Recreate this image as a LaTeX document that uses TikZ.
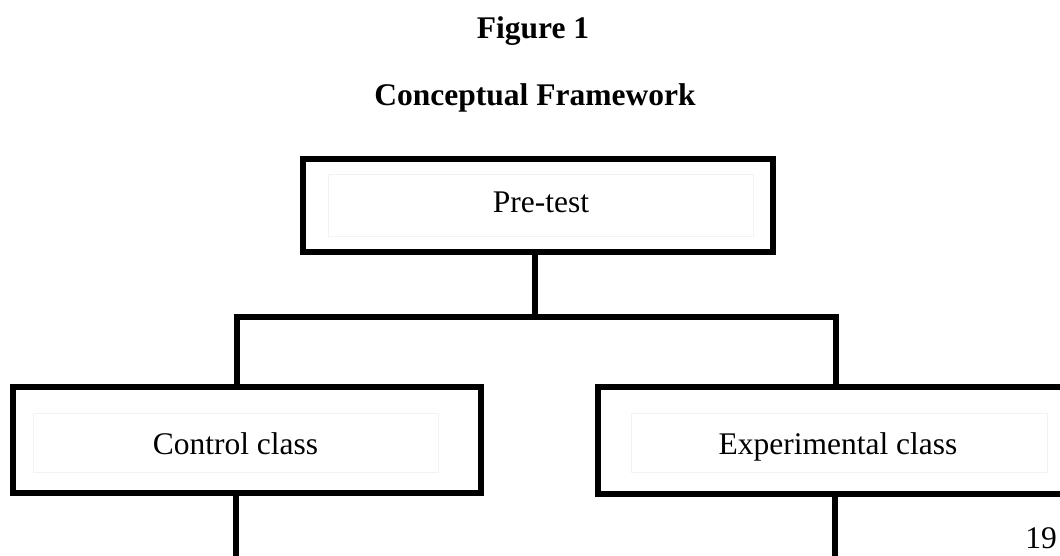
\documentclass[tikz,border=0pt]{standalone}
\usepackage{fontspec}
\setmainfont{Liberation Serif}
\begin{document}
\begin{tikzpicture}[x=0.025cm,y=-0.025cm,
  outerbox/.style={draw=black,line width=4.3pt,inner sep=0pt},
  frame/.style={draw=black!5,line width=0.6pt,inner sep=0pt},
  conn/.style={draw=black,line width=4pt},
  lbl/.style={anchor=base,inner sep=0pt,font=\fontsize{22.4}{27}\selectfont},
  ttl/.style={anchor=base,inner sep=0pt,font=\fontsize{22.4}{27}\selectfont\bfseries}]
\useasboundingbox (0,0) rectangle (1060,556);
% titles
\node[ttl] (fig) at (533,39) {Figure 1};
\node[ttl] (cf) at (535,106) {Conceptual Framework};
% outer boxes
\node[outerbox,minimum width=470*0.025cm,minimum height=93*0.025cm] (pre) at (538,205.5) {};
\node[outerbox,minimum width=468*0.025cm,minimum height=106*0.025cm] (ctrl) at (247,440) {};
\node[outerbox,minimum width=468*0.025cm,minimum height=107*0.025cm] (exp) at (832,440.5) {};
% faint inner frames
\node[frame,minimum width=425*0.025cm,minimum height=62*0.025cm] (preI) at (540.5,205) {};
\node[frame,minimum width=405*0.025cm,minimum height=59*0.025cm] (ctrlI) at (235.5,442.5) {};
\node[frame,minimum width=416*0.025cm,minimum height=59*0.025cm] (expI) at (839,442.5) {};
% labels
\node[lbl] (preT) at (541,213) {Pre-test};
\node[lbl] (ctrlT) at (235.5,455) {Control class};
\node[lbl] (expT) at (838,455) {Experimental class};
\node[anchor=base west,inner sep=0pt,font=\fontsize{22.4}{27}\selectfont] (pg) at (1025,549) {19};
% connectors
\coordinate (j) at (535,317);
\coordinate (jl) at (237,317);
\coordinate (jr) at (836,317);
\coordinate (cb) at (236,562);
\coordinate (eb) at (835,562);
\draw[conn] (pre.south -| j) -- (j);
\draw[conn,line cap=rect] (jl) -- (jr);
\draw[conn] (jl) -- (jl |- ctrl.north);
\draw[conn] (jr) -- (jr |- exp.north);
\draw[conn] (ctrl.south -| cb) -- (cb);
\draw[conn] (exp.south -| eb) -- (eb);
\end{tikzpicture}
\end{document}
